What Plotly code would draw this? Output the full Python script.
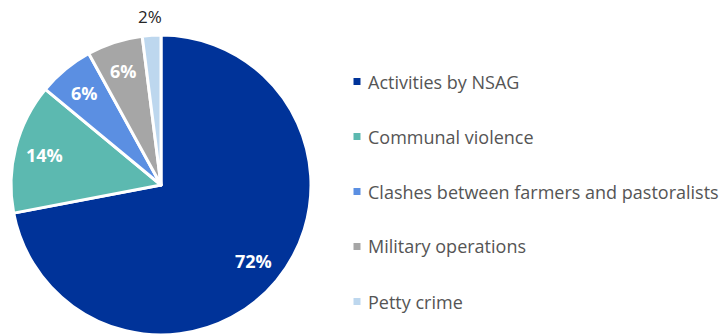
import math
import plotly.graph_objects as go

# Causes of displacement, share of incidents (%)
causes = [
    "Activities by NSAG",
    "Communal violence",
    "Clashes between farmers and pastoralists",
    "Military operations",
    "Petty crime",
]
shares = [72, 14, 6, 6, 2]
colors = ["#003399", "#5CB9B0", "#5B8FE2", "#A6A6A6", "#BDD7EE"]
label_inside = [True, True, True, True, False]

W, H = 720, 336
FONT = "Open Sans"

# Pie placement in pixels (left, right, bottom, top measured from the bottom edge)
px_l, px_r, px_b, px_t = 11, 311, 1, 301
cx = (px_l + px_r) / 2
cy = H - (px_b + px_t) / 2          # from the top edge
radius = min(px_r - px_l, px_t - px_b) / 2

fig = go.Figure(
    go.Pie(
        labels=causes,
        values=shares,
        sort=False,
        direction="clockwise",
        rotation=0,
        marker=dict(colors=colors, line=dict(color="white", width=3)),
        textinfo="none",
        hoverinfo="label+percent",
        showlegend=False,
        domain=dict(x=[px_l / W, px_r / W], y=[px_b / H, px_t / H]),
    )
)

# Percentage labels placed at each slice's mid-angle
total = sum(shares)
cum = 0
for val, inside in zip(shares, label_inside):
    mid = (cum + val / 2) / total
    cum += val
    theta = 2 * math.pi * mid
    dist = radius * 0.8 if inside else radius + 19
    x = cx + dist * math.sin(theta)
    y = cy - dist * math.cos(theta)
    fig.add_annotation(
        x=x / W, y=1 - y / H, xref="paper", yref="paper",
        text=f"{val}%", showarrow=False, xanchor="center", yanchor="middle",
        font=dict(family=FONT, size=18 if inside else 17,
                  color="white" if inside else "#262626",
                  weight="bold" if inside else "normal"),
    )

# Legend: square swatches with labels beside them
leg_x, leg_y0, leg_dy, sw = 357, 81.5, 55, 7
for i, (name, col) in enumerate(zip(causes, colors)):
    yc = leg_y0 + i * leg_dy
    fig.add_shape(
        type="rect", xref="paper", yref="paper",
        x0=(leg_x - sw / 2) / W, x1=(leg_x + sw / 2) / W,
        y0=1 - (yc + sw / 2) / H, y1=1 - (yc - sw / 2) / H,
        fillcolor=col, line=dict(width=0),
    )
    fig.add_annotation(
        x=366 / W, y=1 - yc / H, xref="paper", yref="paper",
        text=name, showarrow=False, xanchor="left", yanchor="middle",
        font=dict(family=FONT, size=18, color="#555555"),
    )

fig.update_layout(
    width=W, height=H,
    margin=dict(l=0, r=0, t=0, b=0, autoexpand=False),
    paper_bgcolor="white",
    plot_bgcolor="white",
)

fig.write_html("out.html")
